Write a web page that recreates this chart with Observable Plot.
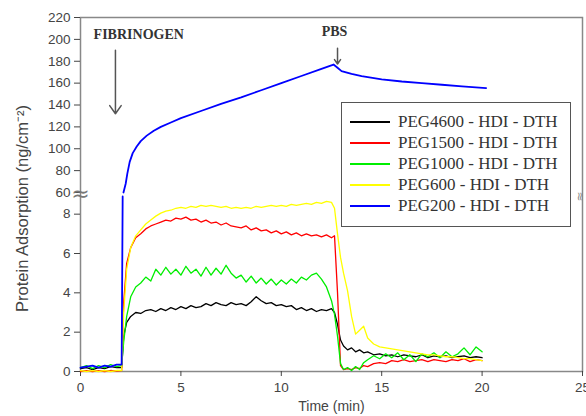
<!DOCTYPE html>
<html><head><meta charset="utf-8">
<script src="https://cdn.jsdelivr.net/npm/d3@7"></script>
<script src="https://cdn.jsdelivr.net/npm/@observablehq/plot@0.6"></script>
<style>
html,body{margin:0;padding:0;background:#fff;}
#wrap{position:relative;width:586px;height:416px;overflow:hidden;}
#legend{position:absolute;left:341px;top:102px;width:230px;height:125px;border:1.5px solid #555;background:#fff;font-family:"Liberation Serif",serif;font-size:17px;color:#333;box-sizing:border-box;}
.row{position:absolute;left:0;height:21px;display:flex;align-items:center;white-space:nowrap;}
.sw{width:40px;height:2px;margin-left:8px;margin-right:8px;}
</style></head><body><div id="wrap"></div>
<script>
const seriesNames = ["PEG4600 - HDI - DTH","PEG1500 - HDI - DTH","PEG1000 - HDI - DTH","PEG600 - HDI - DTH","PEG200 - HDI - DTH"];
const seriesColors = ["#000000","#ff0000","#00ee00","#ffff00","#0000ff"];
const xTicks = [0,5,10,15,20,25];
const yTicks = [0,2,4,6,8,60,80,100,120,140,160,180,200,220];

const times = [0,0.3,0.6,0.9,1.2,1.5,1.8,2.05,2.15,2.3,2.5,2.75,3.0,3.25,3.5,3.75,4.0,4.25,4.5,4.75,5.0,5.25,5.5,5.75,6.0,6.25,6.5,6.75,7.0,7.25,7.5,7.75,8.0,8.25,8.5,8.75,9.0,9.25,9.5,9.75,10.0,10.25,10.5,10.75,11.0,11.25,11.5,11.75,12.0,12.25,12.5,12.65,12.8,12.95,13.1,13.3,13.5,13.7,13.9,14.1,14.3,14.6,14.9,15.2,15.5,15.8,16.1,16.4,16.7,17.0,17.3,17.6,17.9,18.2,18.5,18.8,19.1,19.4,19.7,20.0];

const peg4600 = [0.15,0.2,0.1,0.2,0.15,0.25,0.2,0.2,1.8,2.5,2.8,3.0,2.95,3.1,3.15,3.05,3.2,3.1,3.25,3.15,3.3,3.2,3.35,3.25,3.3,3.45,3.35,3.5,3.4,3.35,3.5,3.4,3.45,3.35,3.55,3.8,3.6,3.45,3.5,3.35,3.4,3.3,3.35,3.15,3.25,3.1,3.2,3.05,3.15,3.1,3.2,3.0,2.4,1.6,1.3,1.1,1.2,1.0,1.1,0.95,1.0,0.85,0.9,0.8,0.85,0.75,0.85,0.8,0.75,0.85,0.7,0.8,0.75,0.8,0.7,0.75,0.8,0.7,0.75,0.7];
const peg1500 = [0.0,0.05,0.0,0.05,0.0,0.05,0.02,0.05,3.5,5.5,6.3,6.8,7.0,7.25,7.4,7.5,7.6,7.7,7.65,7.8,7.75,7.85,7.7,7.75,7.6,7.7,7.55,7.6,7.45,7.55,7.4,7.35,7.3,7.4,7.2,7.3,7.15,7.2,7.05,7.15,7.0,7.1,6.95,7.05,6.9,7.0,6.9,6.95,6.85,6.95,6.8,6.9,4.0,0.3,0.1,0.15,0.1,0.2,0.15,0.3,0.25,0.4,0.45,0.4,0.55,0.5,0.6,0.5,0.55,0.6,0.5,0.6,0.55,0.5,0.6,0.55,0.65,0.5,0.6,0.55];
const peg1000 = [0.2,0.3,0.15,0.3,0.2,0.35,0.25,0.3,1.5,2.8,3.8,4.3,4.5,4.8,4.6,5.2,4.9,5.3,4.95,5.2,4.9,5.35,5.0,5.2,4.85,5.3,4.9,5.25,4.95,5.4,5.0,4.75,4.9,4.55,4.85,4.5,4.75,4.45,4.7,4.4,4.65,4.45,4.7,4.5,4.8,4.65,4.9,5.0,4.7,4.3,3.6,2.9,1.8,0.4,0.1,0.2,0.05,0.25,0.1,0.45,0.6,0.8,0.65,0.9,0.7,0.95,0.6,0.85,0.5,0.9,0.75,0.95,0.7,1.0,0.75,0.9,1.2,0.85,1.25,1.0];
const peg600 = [0.05,0.0,0.05,0.0,0.05,0.0,0.05,0.05,3.0,5.2,6.3,6.9,7.2,7.5,7.7,7.9,8.05,8.15,8.2,8.3,8.35,8.3,8.4,8.35,8.45,8.4,8.45,8.4,8.35,8.4,8.3,8.35,8.3,8.35,8.3,8.4,8.35,8.4,8.45,8.4,8.45,8.4,8.5,8.45,8.5,8.55,8.5,8.6,8.55,8.65,8.6,8.3,7.0,5.8,5.0,4.1,2.8,1.9,2.1,2.3,1.7,1.4,1.25,1.2,1.15,1.1,1.05,1.0,0.95,0.9,0.85,0.85,0.8,0.75,0.75,0.7,0.65,0.65,0.6,0.55];

const blueTimes = [0,0.3,0.6,0.9,1.2,1.5,1.8,2.05,2.1,2.12,2.14,2.25,2.33,2.45,2.6,2.8,3.0,3.3,3.65,4.0,4.5,5.0,6.0,7.0,8.0,9.0,10.0,11.0,12.0,12.6,12.8,13.0,13.5,14.0,15.0,16.0,17.0,18.0,19.0,20.2];
const peg200 = [0.2,0.25,0.3,0.2,0.3,0.25,0.35,0.35,8.9,NaN,60,68,77,88,96,102,107,112,116.5,120,124,128,134.5,141,147,153.5,160,166.5,173,177,174,171,168.5,166.5,163.5,161.5,160,158.5,157,155.5];

const noteLabels = ["FIBRINOGEN","PBS"];
const noteT = [2.9,12.65];
const noteY = [204.5,207.5];
const arrowT = [1.74,12.8];
const arrowFrom = [190,192];
const arrowTo = [132,177.5];

const yLabel = "Protein Adsorption (ng/cm⁻²)";
const xLabel = "Time (min)";

// broken y axis: lower part 0–9, upper part 60–220
const brk = v => v <= 9 ? v * (177 / 9) : v >= 60 ? 179 + (v - 60) * (175 / 160) : 177 + (v - 9) * (2 / 51);
const uTicks = yTicks.map(brk);

const lower = [peg4600,peg1500,peg1000,peg600];
const seriesData = lower.map((arr,k)=>times.map((t,i)=>({t, v:arr[i], s:seriesNames[k]})));
seriesData.push(blueTimes.map((t,i)=>({t, v:peg200[i], s:seriesNames[4]})));
const drawOrder = [0,1,2,3,4];

const notes = noteLabels.map((l,i)=>({l, t:noteT[i], y:noteY[i]}));
const arrows = arrowT.map((t,i)=>({t, y1:arrowFrom[i], y2:arrowTo[i]}));

const chart = Plot.plot({
  width:586, height:416,
  marginLeft:80, marginRight:4, marginTop:17, marginBottom:45,
  x:{domain:[0,25]},
  y:{transform:brk, domain:[0,354]},
  style:{fontFamily:"'Liberation Sans', Arial, sans-serif", fontSize:"13.5px", color:"#444", background:"white"},
  marks:[
    Plot.frame({stroke:"#888", strokeWidth:1.5}),
    Plot.axisX({ticks:xTicks, tickSize:5, tickPadding:6, label:null, fontSize:13.5}),
    Plot.axisY({ticks:uTicks, tickFormat:d=>yTicks[uTicks.indexOf(d)], tickSize:6, tickPadding:4, label:null, fontSize:13.5}),
    ...drawOrder.map(k=>Plot.line(seriesData[k], {x:"t", y:"v", stroke:seriesColors[k], strokeWidth:k===4?1.8:1.3})),
    Plot.text(["≈"], {x:0, y:60, text:d=>d, fontSize:22, fill:"#777", fontFamily:"DejaVu Sans", dy:1}),
    Plot.text(["≈"], {x:25, y:60, text:d=>d, fontSize:12, fill:"#888", fontFamily:"DejaVu Sans", rotate:90, dx:-3, dy:4}),
    Plot.arrow(arrows, {x1:"t", y1:"y1", x2:"t", y2:"y2", stroke:"#555", strokeWidth:1.5, headLength:10, headAngle:70}),
    Plot.text(notes, {x:"t", y:"y", text:"l", fontFamily:"'Liberation Serif', serif", fontWeight:"bold", fontSize:14, fill:"#333"}),
    Plot.text([yLabel], {frameAnchor:"left", textAnchor:"middle", text:d=>d, rotate:-90, dx:-58, dy:14, fontSize:16.5, fill:"#444"}),
    Plot.text([xLabel], {frameAnchor:"bottom", text:d=>d, dy:39, fontSize:14, fill:"#444"})
  ]
});
const wrap = document.getElementById("wrap");
wrap.appendChild(chart);

const legend = d3.select(wrap).append("div").attr("id","legend");
seriesNames.forEach((n,i)=>{
  const row = legend.append("div").attr("class","row").style("top", (8 + i*21.2) + "px");
  row.append("div").attr("class","sw").style("background", seriesColors[i]);
  row.append("span").text(n);
});
</script>
</body></html>
